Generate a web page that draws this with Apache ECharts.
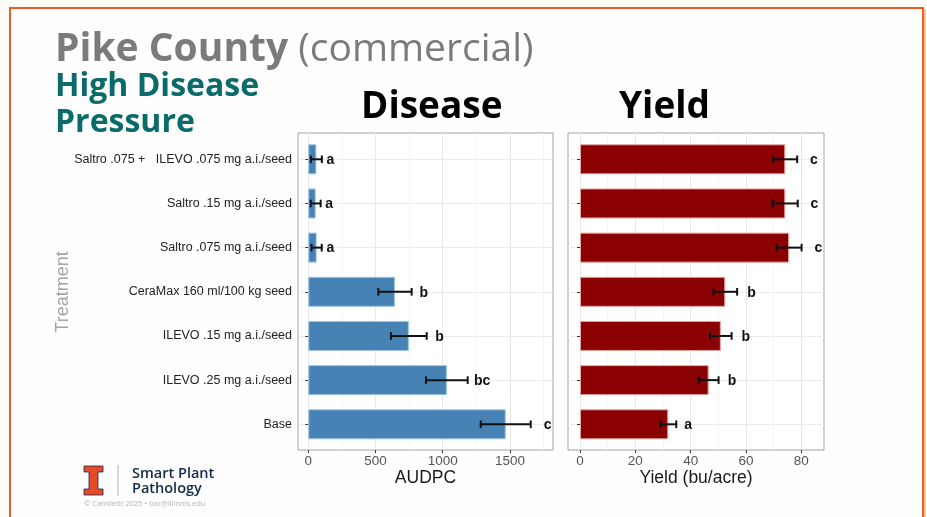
<!DOCTYPE html>
<html>
<head>
<meta charset="utf-8">
<script src="https://cdn.jsdelivr.net/npm/echarts@6/dist/echarts.min.js"></script>
<style>
  html, body { margin: 0; padding: 0; background: #fdfcf5; }
  #chart { width: 927px; height: 517px; }
</style>
</head>
<body>
<div id="chart"></div>
<script>
// treatments, top to bottom
const categories = [
  'Saltro .075 +   ILEVO .075 mg a.i./seed',
  'Saltro .15 mg a.i./seed',
  'Saltro .075 mg a.i./seed',
  'CeraMax 160 ml/100 kg seed',
  'ILEVO .15 mg a.i./seed',
  'ILEVO .25 mg a.i./seed',
  'Base'
]

// disease (AUDPC) mean, standard error, letter groups
const audpcMean = [60, 55, 62, 645, 748, 1031, 1469]
const audpcSe = [41, 37, 38, 124, 133, 155, 186]
const audpcLetters = ['a', 'a', 'a', 'b', 'b', 'bc', 'c']
const audpcTicks = [0, 500, 1000, 1500]

// yield (bu/acre)
const yieldMean = [74.2, 74.2, 75.6, 52.5, 50.9, 46.5, 31.9]
const yieldSe = [4.3, 4.5, 4.5, 4.3, 3.9, 3.6, 2.9]
const yieldLetters = ['c', 'c', 'c', 'b', 'b', 'b', 'a']
const yieldTicks = [0, 20, 40, 60, 80]

const SANS = '"Liberation Sans", Arial, sans-serif'
const TITLE = '"Open Sans", "Noto Sans", sans-serif'

const FRAME_TOP = 133
const FRAME_H = 317
const ROW_TOP = 159.3
const ROW_H = 265

const grid = []
const xAxis = []
const yAxis = []
const series = []

// error bar + letter for each row
function errorBars(letters) {
  return function (params, api) {
    const m = api.value(0)
    const i = api.value(1)
    const s = api.value(2)
    const lo = api.coord([m - s, i])
    const hi = api.coord([m + s, i])
    const lab = api.coord([(m + s) * 1.04, i])
    const c = 3.8
    const st = { stroke: '#111', lineWidth: 2 }
    return {
      type: 'group',
      children: [
        { type: 'line', shape: { x1: lo[0], y1: lo[1], x2: hi[0], y2: hi[1] }, style: st },
        { type: 'line', shape: { x1: lo[0], y1: lo[1] - c, x2: lo[0], y2: lo[1] + c }, style: st },
        { type: 'line', shape: { x1: hi[0], y1: hi[1] - c, x2: hi[0], y2: hi[1] + c }, style: st },
        {
          type: 'text',
          style: {
            x: lab[0] + 8, y: lab[1] + 1,
            text: letters[params.dataIndex],
            fill: '#111',
            font: 'bold 14px ' + SANS,
            align: 'center', textAlign: 'center',
            verticalAlign: 'middle', textVerticalAlign: 'middle'
          }
        }
      ]
    }
  }
}

function addPanel(p) {
  const w = p.right - p.left
  const k = w / (p.max - p.min)
  const x0 = p.left - p.min * k
  const step = p.ticks[1] - p.ticks[0]
  const minorStep = step / 2
  const minorMax = Math.floor(p.max / minorStep) * minorStep
  const lastTick = p.ticks[p.ticks.length - 1]
  const g = grid.length

  // frame
  grid.push({ left: p.left, top: FRAME_TOP, width: w, height: FRAME_H, show: true,
    backgroundColor: '#ffffff', borderColor: '#a3a3a3', borderWidth: 1 })
  xAxis.push({ gridIndex: g, type: 'value', min: p.min, max: p.max,
    name: p.name, nameLocation: 'middle', nameGap: 19,
    nameTextStyle: { fontFamily: SANS, fontSize: 17.5, color: '#1a1a1a' },
    axisLine: { show: false }, axisTick: { show: false }, axisLabel: { show: false }, splitLine: { show: false } })
  yAxis.push({ gridIndex: g, type: 'value', show: false })

  // minor grid lines
  grid.push({ left: x0, top: FRAME_TOP, width: minorMax * k, height: FRAME_H })
  xAxis.push({ gridIndex: g + 1, type: 'value', min: 0, max: minorMax, interval: minorStep, z: 0,
    axisLine: { show: false }, axisTick: { show: false }, axisLabel: { show: false },
    splitLine: { lineStyle: { color: '#f3f3f3', width: 0.8 } } })
  yAxis.push({ gridIndex: g + 1, type: 'value', show: false })

  // major grid lines, ticks, labels
  grid.push({ left: x0, top: FRAME_TOP, width: lastTick * k, height: FRAME_H })
  xAxis.push({ gridIndex: g + 2, type: 'value', min: 0, max: lastTick, interval: step, z: 1,
    axisLine: { show: false },
    axisTick: { length: 3, lineStyle: { color: '#333' } },
    axisLabel: { margin: 4, fontFamily: SANS, fontSize: 13.5, color: '#555',
      formatter: (v) => String(v) },
    splitLine: { lineStyle: { color: '#e8e8e8', width: 1 } } })
  yAxis.push({ gridIndex: g + 2, type: 'value', show: false })

  // data rows
  grid.push({ left: p.left, top: ROW_TOP, width: w, height: ROW_H })
  xAxis.push({ gridIndex: g + 3, type: 'value', min: p.min, max: p.max, show: false })
  yAxis.push({ gridIndex: g + 3, type: 'category', data: categories, inverse: true, boundaryGap: false,
    axisLine: { show: false },
    axisTick: { length: 3, lineStyle: { color: '#333' } },
    axisLabel: { show: p.showLabels, margin: 6, fontFamily: SANS, fontSize: 12.5, color: '#222' },
    splitLine: { show: true, lineStyle: { color: '#ebebeb' } } })

  series.push({
    type: 'bar', xAxisIndex: g + 3, yAxisIndex: g + 3,
    data: p.mean, barWidth: 30, z: 2,
    itemStyle: { color: p.color, borderColor: p.edge, borderWidth: 1 }
  })
  series.push({
    type: 'custom', xAxisIndex: g + 3, yAxisIndex: g + 3, z: 3,
    data: p.mean.map((m, i) => [m, i, p.se[i]]),
    encode: { x: 0, y: 1 },
    renderItem: errorBars(p.letters)
  })
}

addPanel({ left: 298, right: 553, min: -76.6, max: 1820.7, ticks: audpcTicks, name: 'AUDPC',
  mean: audpcMean, se: audpcSe, letters: audpcLetters, color: '#4682b4', edge: '#9cc2e4', showLabels: true })
addPanel({ left: 568, right: 824, min: -4.34, max: 88.2, ticks: yieldTicks, name: 'Yield (bu/acre)',
  mean: yieldMean, se: yieldSe, letters: yieldLetters, color: '#8b0000', edge: '#e6a3a3', showLabels: false })

const graphic = [
  // slide background and orange border
  { type: 'rect', z: -10, shape: { x: 10, y: 8, width: 913, height: 530 },
    style: { fill: '#fefefe', stroke: '#f05a23', lineWidth: 2 } },
  { type: 'line', z: -10, shape: { x1: 925, y1: 9, x2: 925, y2: 517 },
    style: { stroke: '#f8c7a8', lineWidth: 2 } },
  // titles
  { type: 'text', style: { x: 55, y: 50, text: '{b|Pike County }{r|(commercial)}', fill: '#7b7b7b',
    verticalAlign: 'middle', textVerticalAlign: 'middle',
    rich: { b: { font: 'bold 39px ' + TITLE, fill: '#7b7b7b' }, r: { font: '39px ' + TITLE, fill: '#7b7b7b' } } } },
  { type: 'text', style: { x: 55, y: 87, text: 'High Disease', fill: '#0b6b6b', font: 'bold 32px ' + TITLE,
    verticalAlign: 'middle', textVerticalAlign: 'middle' } },
  { type: 'text', style: { x: 55, y: 123, text: 'Pressure', fill: '#0b6b6b', font: 'bold 32px ' + TITLE,
    verticalAlign: 'middle', textVerticalAlign: 'middle' } },
  { type: 'text', style: { x: 361, y: 107, text: 'Disease', fill: '#000', font: 'bold 37px ' + TITLE,
    verticalAlign: 'middle', textVerticalAlign: 'middle' } },
  { type: 'text', style: { x: 619, y: 107, text: 'Yield', fill: '#000', font: 'bold 37px ' + TITLE,
    verticalAlign: 'middle', textVerticalAlign: 'middle' } },
  // y axis title
  { type: 'text', x: 63, y: 292, rotation: Math.PI / 2,
    style: { x: 0, y: 0, text: 'Treatment', fill: '#a3a3a3', font: '18px ' + SANS,
      align: 'center', textAlign: 'center', verticalAlign: 'middle', textVerticalAlign: 'middle' } },
  // logo
  { type: 'polygon', shape: { points: [[84, 466], [103, 466], [103, 472], [98, 472], [98, 489], [103, 489],
    [103, 495], [84, 495], [84, 489], [89, 489], [89, 472], [84, 472]] },
    style: { fill: '#e84a27', stroke: '#13294b', lineWidth: 0.8 } },
  { type: 'line', shape: { x1: 118, y1: 465, x2: 118, y2: 496 }, style: { stroke: '#b0b0b0', lineWidth: 1 } },
  { type: 'text', style: { x: 132, y: 474, text: 'Smart Plant', fill: '#13294b', font: '600 14.5px ' + TITLE,
    verticalAlign: 'middle', textVerticalAlign: 'middle' } },
  { type: 'text', style: { x: 132, y: 489, text: 'Pathology', fill: '#13294b', font: '600 14.5px ' + TITLE,
    verticalAlign: 'middle', textVerticalAlign: 'middle' } },
  { type: 'text', style: { x: 84, y: 504, text: '\u00a9 Camiletti 2025 \u2022 bxc@illinois.edu', fill: '#b5b5b5',
    font: '7.5px ' + TITLE, verticalAlign: 'middle', textVerticalAlign: 'middle' } }
]

const chart = echarts.init(document.getElementById('chart'))
chart.setOption({
  backgroundColor: '#fdfcf5',
  animation: false,
  grid: grid,
  xAxis: xAxis,
  yAxis: yAxis,
  series: series,
  graphic: graphic
})
</script>
</body>
</html>
